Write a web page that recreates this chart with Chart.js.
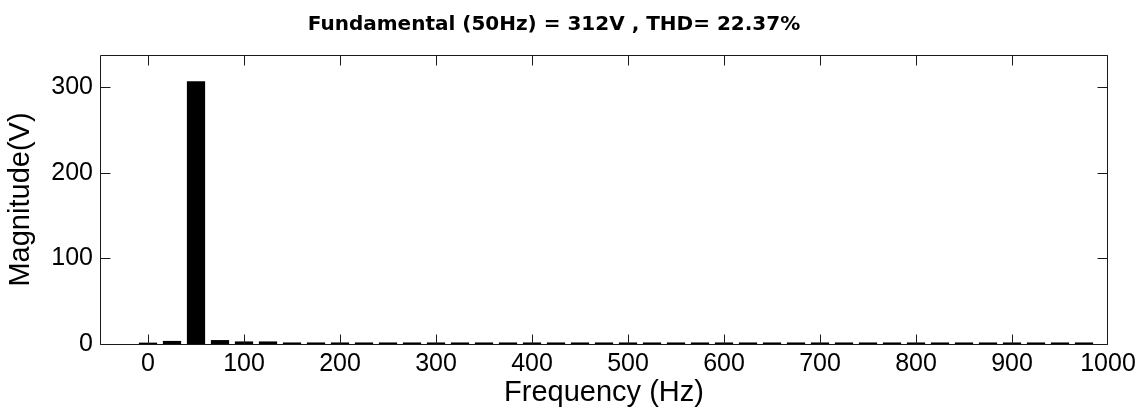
<!DOCTYPE html>
<html>
<head>
<meta charset="utf-8">
<script src="https://cdn.jsdelivr.net/npm/chart.js@4"></script>
<style>
  html, body { margin: 0; padding: 0; background: #fff; }
  #wrap { width: 1141px; height: 410px; position: relative; }
</style>
</head>
<body>
<div id="wrap"><canvas id="c"></canvas></div>
<script>
const chartTitle = 'Fundamental (50Hz) = 312V , THD= 22.37%';
const xTitle = 'Frequency (Hz)';
const yTitle = 'Magnitude(V)';

const frequencies = [0, 25, 50, 75, 100, 125, 150, 175, 200, 225,
                     250, 275, 300, 325, 350, 375, 400, 425, 450, 475,
                     500, 525, 550, 575, 600, 625, 650, 675, 700, 725,
                     750, 775, 800, 825, 850, 875, 900, 925, 950, 975];
const magnitudes = [1.6, 3.6, 307, 4.6, 3.0, 3.0, 1.8, 1.8, 1.8, 1.8,
                    1.8, 1.8, 1.8, 1.8, 1.8, 1.8, 1.8, 1.8, 1.8, 1.8,
                    1.8, 1.8, 1.8, 1.8, 1.8, 1.8, 1.8, 1.8, 1.8, 1.8,
                    1.8, 1.8, 1.8, 1.8, 1.8, 1.8, 1.8, 1.8, 1.8, 1.8];
const xTicks = [0, 100, 200, 300, 400, 500, 600, 700, 800, 900, 1000];
const yTicks = [0, 100, 200, 300];
const xRange = [-50, 1000];
const yRange = [0, 337.7];

const points = frequencies.map((f, i) => ({ x: f, y: magnitudes[i] }));

const boxPlugin = {
  id: 'matlabBox',
  afterDatasetsDraw(chart) {
    const ctx = chart.ctx;
    const a = chart.chartArea;
    const xs = chart.scales.x, ys = chart.scales.y;
    const L = Math.round(a.left) + 0.5, R = Math.round(a.right) - 0.5;
    const T = Math.round(a.top) + 0.5, B = Math.round(a.bottom) + 0.5;
    const tl = 10;
    const clamp = (v, lo, hi) => Math.min(hi, Math.max(lo, v));
    ctx.save();
    ctx.strokeStyle = '#1a1a1a';
    ctx.lineWidth = 1;
    ctx.beginPath();
    ctx.rect(L, T, R - L, B - T);
    xs.ticks.forEach(t => {
      const px = clamp(Math.round(xs.getPixelForValue(t.value)) + 0.5, L, R);
      ctx.moveTo(px, B); ctx.lineTo(px, B - tl);
      ctx.moveTo(px, T); ctx.lineTo(px, T + tl);
    });
    ys.ticks.forEach(t => {
      const py = clamp(Math.round(ys.getPixelForValue(t.value)) + 0.5, T, B);
      ctx.moveTo(L, py); ctx.lineTo(L + tl, py);
      ctx.moveTo(R, py); ctx.lineTo(R - tl, py);
    });
    ctx.stroke();
    ctx.restore();
  }
};

Chart.defaults.color = '#000';
Chart.defaults.font.family = "'Liberation Sans', Arial, sans-serif";

new Chart(document.getElementById('c'), {
  type: 'bar',
  data: {
    datasets: [{
      data: points,
      backgroundColor: '#000',
      borderWidth: 0,
      categoryPercentage: 1.0,
      barPercentage: 0.76
    }]
  },
  options: {
    responsive: true,
    maintainAspectRatio: false,
    animation: false,
    layout: { padding: { left: 0, right: 33, top: 0, bottom: 0 } },
    plugins: {
      legend: { display: false },
      tooltip: { enabled: false },
      title: {
        display: true,
        text: chartTitle,
        color: '#000',
        font: { family: "'DejaVu Sans', sans-serif", size: 20, weight: 'bold', lineHeight: 1.2 },
        padding: { top: 13, bottom: 18 }
      }
    },
    scales: {
      x: {
        type: 'linear',
        offset: false,
        min: xRange[0],
        max: xRange[1],
        grid: { display: false, drawTicks: false },
        border: { display: false },
        afterBuildTicks(scale) { scale.ticks = xTicks.map(v => ({ value: v })); },
        afterFit(scale) { scale.height = 66; },
        ticks: {
          font: { size: 25 },
          padding: 5,
          maxRotation: 0,
          autoSkip: false,
          callback: v => String(v)
        },
        title: {
          display: true,
          text: xTitle,
          font: { size: 29, lineHeight: 1.2 },
          padding: { top: 0, bottom: 0 }
        }
      },
      y: {
        type: 'linear',
        min: yRange[0],
        max: yRange[1],
        grid: { display: false, drawTicks: false },
        border: { display: false },
        afterBuildTicks(scale) { scale.ticks = yTicks.map(v => ({ value: v })); },
        afterFit(scale) { scale.width = 100; },
        ticks: {
          font: { size: 25 },
          padding: 7,
          autoSkip: false,
          callback: v => String(v)
        },
        title: {
          display: true,
          text: yTitle,
          font: { size: 29, lineHeight: 1.2 },
          padding: { top: 4, bottom: 0 }
        }
      }
    }
  },
  plugins: [boxPlugin]
});
</script>
</body>
</html>
